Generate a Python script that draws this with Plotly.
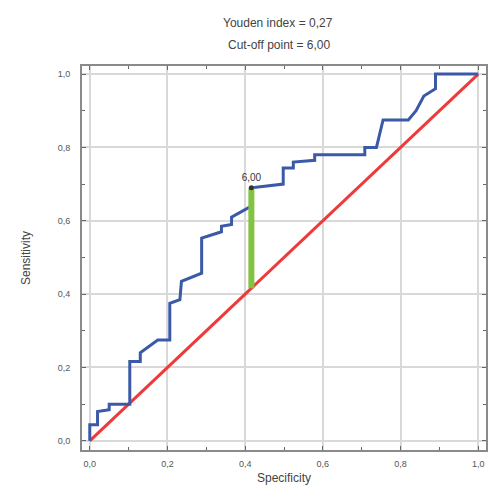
import plotly.graph_objects as go

# ROC curve vertices
fpr = [0, 0, 0.02, 0.02, 0.05, 0.05, 0.103, 0.103, 0.13, 0.13, 0.175, 0.206, 0.206, 0.232, 0.236,
       0.288, 0.288, 0.339, 0.339, 0.365, 0.365, 0.416, 0.416, 0.498, 0.498, 0.524, 0.524, 0.579,
       0.579, 0.708, 0.708, 0.738, 0.755, 0.82, 0.84, 0.86, 0.89, 0.89, 1.0]
tpr = [0, 0.044, 0.044, 0.08, 0.085, 0.10, 0.10, 0.216, 0.216, 0.24, 0.275, 0.275, 0.375, 0.385, 0.435,
       0.457, 0.553, 0.57, 0.585, 0.59, 0.61, 0.64, 0.69, 0.70, 0.744, 0.744, 0.76, 0.765,
       0.78, 0.78, 0.80, 0.80, 0.875, 0.875, 0.90, 0.94, 0.96, 1.0, 1.0]
diag = [0, 1]
cut_x = 0.416
cut_y = [0.416, 0.69]
cut_label = "6,00"
title_lines = ["Youden index = 0,27", "Cut-off point = 6,00"]
tick_vals = [0, 0.2, 0.4, 0.6, 0.8, 1.0]
tick_text = ["0,0", "0,2", "0,4", "0,6", "0,8", "1,0"]

fig = go.Figure()
fig.add_trace(go.Scatter(x=diag, y=diag, mode="lines", line=dict(color="#ee3a3a", width=3), showlegend=False))
fig.add_trace(go.Scatter(x=fpr, y=tpr, mode="lines", line=dict(color="#3a5aa8", width=3), showlegend=False))
fig.add_trace(go.Scatter(x=[cut_x, cut_x], y=cut_y, mode="lines", line=dict(color="#82c341", width=6), showlegend=False))
fig.add_trace(go.Scatter(x=[cut_x], y=[cut_y[1]], mode="markers+text", text=[cut_label],
                         textposition="top center", textfont=dict(size=10, color="#333"),
                         marker=dict(color="#333", size=5), showlegend=False))

axis_common = dict(
    range=[-0.02, 1.02], tickvals=tick_vals, ticktext=tick_text,
    showgrid=True, gridcolor="#d9d9d9", gridwidth=2,
    showline=True, linecolor="#8a8a8a", linewidth=2, mirror="ticks",
    ticks="inside", ticklen=4, tickcolor="#666",
    minor=dict(dtick=0.1, ticks="inside", ticklen=3, tickcolor="#666", showgrid=False),
    zeroline=False, tickfont=dict(size=9, color="#555", family="Liberation Sans"),
)
fig.update_xaxes(**axis_common, ticklabelstandoff=4,
                 title=dict(text="Specificity", font=dict(size=12, color="#444"), standoff=6))
fig.update_yaxes(**axis_common, ticklabelstandoff=8,
                 title=dict(text="Sensitivity", font=dict(size=12, color="#444"), standoff=24))
fig.update_yaxes(range=[-0.025, 1.022])

fig.update_layout(
    width=500, height=500,
    margin=dict(l=74, r=22, t=58, b=58),
    plot_bgcolor="white", paper_bgcolor="white",
    font=dict(family="Liberation Sans", color="#444"),
    annotations=[
        dict(text=title_lines[0], xref="paper", yref="paper", x=0.485, y=1.0, yshift=43,
             xanchor="center", yanchor="middle", showarrow=False, font=dict(size=12, color="#444")),
        dict(text=title_lines[1], xref="paper", yref="paper", x=0.49, y=1.0, yshift=21,
             xanchor="center", yanchor="middle", showarrow=False, font=dict(size=12, color="#444")),
    ],
)
fig.write_html("out.html")
